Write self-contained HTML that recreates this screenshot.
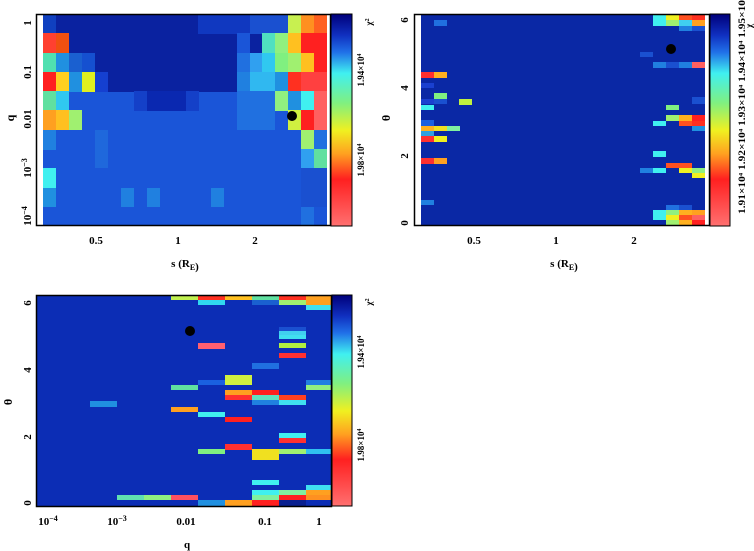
<!DOCTYPE html>
<html><head><meta charset="utf-8"><style>
html,body{margin:0;padding:0;background:#fff;width:754px;height:551px;overflow:hidden}
svg{display:block}
text{font-family:"Liberation Serif",serif;font-weight:bold;fill:#000}
</style></head><body>
<svg width="754" height="551" viewBox="0 0 754 551" xmlns="http://www.w3.org/2000/svg">
<defs>
<linearGradient id="cb" x1="0" y1="0" x2="0" y2="1">
<stop offset="0" stop-color="#00007a"/>
<stop offset="0.1" stop-color="#1030c0"/>
<stop offset="0.18" stop-color="#2070e8"/>
<stop offset="0.28" stop-color="#40f0f0"/>
<stop offset="0.42" stop-color="#80f080"/>
<stop offset="0.55" stop-color="#f0f020"/>
<stop offset="0.66" stop-color="#ffa020"/>
<stop offset="0.78" stop-color="#ff2020"/>
<stop offset="1" stop-color="#ff7070"/>
</linearGradient>
</defs>

<!-- ===== Panel 1 ===== -->
<rect x="43" y="14" width="284" height="212" fill="#1a55d8"/>
<rect x="43" y="14" width="284" height="78" fill="#0a22a0"/>
<rect x="43" y="14" width="13" height="20" fill="#1040c0"/>
<rect x="198" y="14" width="52" height="20" fill="#1038c0"/>
<rect x="250" y="14" width="39" height="20" fill="#1a50d0"/>
<rect x="288" y="14" width="13" height="20" fill="#c8f050"/>
<rect x="301" y="14" width="13" height="20" fill="#ff9020"/>
<rect x="314" y="14" width="13" height="20" fill="#ff6020"/>
<rect x="43" y="33" width="13" height="20" fill="#ff4030"/>
<rect x="56" y="33" width="13" height="20" fill="#f05010"/>
<rect x="237" y="33" width="13" height="20" fill="#1a55d8"/>
<rect x="262" y="33" width="13" height="20" fill="#50e0c0"/>
<rect x="275" y="33" width="13" height="20" fill="#90f080"/>
<rect x="288" y="33" width="13" height="20" fill="#ffc020"/>
<rect x="301" y="33" width="26" height="20" fill="#ff2020"/>
<rect x="43" y="53" width="13" height="20" fill="#50e0b0"/>
<rect x="56" y="53" width="13" height="20" fill="#2090e0"/>
<rect x="69" y="53" width="13" height="20" fill="#1a60d0"/>
<rect x="82" y="53" width="13" height="20" fill="#1550d0"/>
<rect x="237" y="53" width="13" height="20" fill="#2070e0"/>
<rect x="250" y="53" width="13" height="20" fill="#30a0f0"/>
<rect x="262" y="53" width="13" height="20" fill="#30c8f0"/>
<rect x="275" y="53" width="13" height="20" fill="#80f080"/>
<rect x="288" y="53" width="13" height="20" fill="#a0f070"/>
<rect x="301" y="53" width="13" height="20" fill="#ffc020"/>
<rect x="314" y="53" width="13" height="20" fill="#ff2020"/>
<rect x="43" y="72" width="13" height="20" fill="#ff2020"/>
<rect x="56" y="72" width="13" height="20" fill="#ffd020"/>
<rect x="69" y="72" width="13" height="20" fill="#2090e0"/>
<rect x="82" y="72" width="13" height="20" fill="#e0f020"/>
<rect x="95" y="72" width="13" height="20" fill="#1540d0"/>
<rect x="237" y="72" width="13" height="20" fill="#2080e0"/>
<rect x="250" y="72" width="26" height="20" fill="#30b8f0"/>
<rect x="275" y="72" width="13" height="20" fill="#2090e0"/>
<rect x="288" y="72" width="13" height="20" fill="#ff3020"/>
<rect x="301" y="72" width="26" height="20" fill="#ff4040"/>
<rect x="43" y="91" width="13" height="20" fill="#60e0a0"/>
<rect x="56" y="91" width="13" height="20" fill="#30c8f0"/>
<rect x="134" y="91" width="13" height="20" fill="#1440c8"/>
<rect x="147" y="91" width="39" height="20" fill="#0a28b0"/>
<rect x="186" y="91" width="13" height="20" fill="#1440c8"/>
<rect x="237" y="91" width="38" height="20" fill="#2070e0"/>
<rect x="275" y="91" width="13" height="20" fill="#90f080"/>
<rect x="288" y="91" width="13" height="20" fill="#2090e0"/>
<rect x="301" y="91" width="13" height="20" fill="#40f0f0"/>
<rect x="314" y="91" width="13" height="20" fill="#ff6060"/>
<rect x="43" y="110" width="13" height="20" fill="#ffa020"/>
<rect x="56" y="110" width="13" height="20" fill="#ffc020"/>
<rect x="69" y="110" width="13" height="20" fill="#a0f070"/>
<rect x="237" y="110" width="38" height="20" fill="#2070e0"/>
<rect x="288" y="110" width="13" height="20" fill="#d0f040"/>
<rect x="301" y="110" width="13" height="20" fill="#ff2020"/>
<rect x="314" y="110" width="13" height="20" fill="#ff6060"/>
<rect x="43" y="130" width="13" height="20" fill="#2080e0"/>
<rect x="301" y="130" width="13" height="20" fill="#a0f070"/>
<rect x="314" y="130" width="13" height="20" fill="#2070e0"/>
<rect x="95" y="130" width="13" height="38" fill="#1f68dc"/>
<rect x="301" y="149" width="13" height="20" fill="#30a0f0"/>
<rect x="314" y="149" width="13" height="20" fill="#60e0a0"/>
<rect x="43" y="168" width="13" height="20" fill="#40f0f0"/>
<rect x="43" y="188" width="13" height="19" fill="#2090e0"/>
<rect x="121" y="188" width="13" height="19" fill="#2080e0"/>
<rect x="147" y="188" width="13" height="19" fill="#2080e0"/>
<rect x="211" y="188" width="13" height="19" fill="#2080e0"/>
<rect x="301" y="168" width="26" height="39" fill="#1a50d0"/>
<rect x="301" y="207" width="13" height="19" fill="#2070e0"/>
<circle cx="292" cy="116" r="5" fill="#000"/>
<rect x="36.5" y="14.5" width="294" height="211" fill="none" stroke="#000" stroke-width="1.5"/>
<rect x="331" y="14" width="21" height="212" fill="url(#cb)" stroke="#000" stroke-width="1"/>
<text transform="translate(14,118) rotate(-90)" font-size="12" text-anchor="middle">q</text>
<g font-size="11" text-anchor="middle">
<text transform="translate(31,23) rotate(-90)">1</text>
<text transform="translate(31,72) rotate(-90)">0.1</text>
<text transform="translate(31,119) rotate(-90)">0.01</text>
<text transform="translate(31,168) rotate(-90)">10<tspan font-size="8" dy="-4">−3</tspan></text>
<text transform="translate(31,216) rotate(-90)">10<tspan font-size="8" dy="-4">−4</tspan></text>
<text x="96" y="244">0.5</text>
<text x="178" y="244">1</text>
<text x="255" y="244">2</text>
<text x="185" y="267">s (R<tspan font-size="8" dy="3">E</tspan>)</text>
</g>
<g font-size="9" text-anchor="middle">
<text transform="translate(364,70) rotate(-90)">1.94×10<tspan font-size="6" dy="-3">4</tspan></text>
<text transform="translate(364,160) rotate(-90)">1.98×10<tspan font-size="6" dy="-3">4</tspan></text>
<text transform="translate(372,22) rotate(-90)">χ<tspan font-size="6" dy="-3">2</tspan></text>
</g>

<!-- ===== Panel 2 ===== -->
<rect x="421" y="14" width="284" height="212" fill="#0a28a5"/>
<g>
<rect x="434" y="20" width="13" height="6" fill="#2070e0"/>
<rect x="653" y="15" width="13" height="5" fill="#40f0f0"/><rect x="666" y="15" width="13" height="5" fill="#f0f020"/><rect x="679" y="15" width="13" height="5" fill="#ff5020"/><rect x="692" y="15" width="13" height="5" fill="#ff3020"/>
<rect x="653" y="20" width="13" height="6" fill="#40f0f0"/><rect x="666" y="20" width="13" height="6" fill="#a0f070"/><rect x="679" y="20" width="13" height="6" fill="#40d0f0"/><rect x="692" y="20" width="13" height="6" fill="#ffa020"/>
<rect x="679" y="26" width="13" height="5" fill="#2080e0"/><rect x="692" y="26" width="13" height="5" fill="#1a50d0"/>
<rect x="640" y="52" width="13" height="5" fill="#1a50d0"/>
<rect x="653" y="62" width="13" height="6" fill="#2080e0"/><rect x="666" y="62" width="13" height="6" fill="#1a50d0"/><rect x="679" y="62" width="13" height="6" fill="#2080e0"/><rect x="692" y="62" width="13" height="6" fill="#ff6060"/>
<rect x="421" y="72" width="13" height="6" fill="#ff3030"/><rect x="434" y="72" width="13" height="6" fill="#ffb020"/>
<rect x="421" y="83" width="13" height="5" fill="#1a40d0"/>
<rect x="434" y="93" width="13" height="6" fill="#80f080"/>
<rect x="421" y="99" width="13" height="5" fill="#1a40d0"/><rect x="434" y="99" width="13" height="5" fill="#1a50d0"/><rect x="459" y="99" width="13" height="6" fill="#c0f040"/>
<rect x="692" y="97" width="13" height="7" fill="#1a50d0"/>
<rect x="421" y="105" width="13" height="5" fill="#40f0f0"/>
<rect x="666" y="105" width="13" height="5" fill="#80f080"/>
<rect x="421" y="120" width="13" height="6" fill="#1a60e0"/>
<rect x="666" y="115" width="13" height="6" fill="#a0f070"/><rect x="679" y="115" width="13" height="6" fill="#ffb020"/><rect x="692" y="115" width="13" height="6" fill="#ff2020"/>
<rect x="653" y="121" width="13" height="5" fill="#40f0f0"/><rect x="679" y="121" width="13" height="5" fill="#ff5020"/><rect x="692" y="121" width="13" height="5" fill="#ff3020"/>
<rect x="421" y="126" width="13" height="5" fill="#ffb020"/><rect x="434" y="126" width="13" height="5" fill="#f0e020"/><rect x="447" y="126" width="13" height="5" fill="#80f0a0"/>
<rect x="692" y="126" width="13" height="5" fill="#2090e0"/>
<rect x="421" y="131" width="13" height="5" fill="#30a0e0"/>
<rect x="421" y="136" width="13" height="6" fill="#ff3030"/><rect x="434" y="136" width="13" height="6" fill="#f0f020"/>
<rect x="653" y="151" width="13" height="6" fill="#40f0f0"/>
<rect x="421" y="158" width="13" height="6" fill="#ff3030"/><rect x="434" y="158" width="13" height="6" fill="#ffa020"/>
<rect x="666" y="163" width="13" height="5" fill="#ff5020"/><rect x="679" y="163" width="13" height="5" fill="#ff5020"/>
<rect x="640" y="168" width="13" height="5" fill="#2080e0"/><rect x="653" y="168" width="13" height="5" fill="#40f0f0"/><rect x="679" y="168" width="13" height="5" fill="#f0f020"/><rect x="692" y="168" width="13" height="5" fill="#90f080"/>
<rect x="692" y="173" width="13" height="5" fill="#f0f020"/>
<rect x="421" y="200" width="13" height="5" fill="#2080e0"/>
<rect x="666" y="205" width="13" height="5" fill="#2070e0"/><rect x="679" y="205" width="13" height="5" fill="#1a50d0"/>
<rect x="653" y="210" width="13" height="5" fill="#40f0f0"/><rect x="666" y="210" width="13" height="5" fill="#90f080"/><rect x="679" y="210" width="13" height="5" fill="#ffb020"/><rect x="692" y="210" width="13" height="5" fill="#ffa020"/>
<rect x="653" y="215" width="13" height="5" fill="#40f0f0"/><rect x="666" y="215" width="13" height="5" fill="#f0f020"/><rect x="679" y="215" width="13" height="5" fill="#ff5020"/><rect x="692" y="215" width="13" height="5" fill="#ff6060"/>
<rect x="666" y="220" width="13" height="6" fill="#a0f070"/><rect x="679" y="220" width="13" height="6" fill="#ffb020"/><rect x="692" y="220" width="13" height="6" fill="#ff2020"/>
</g>
<circle cx="671" cy="49" r="5" fill="#000"/>
<rect x="414.5" y="14.5" width="295" height="211" fill="none" stroke="#000" stroke-width="1.5"/>
<rect x="710" y="14" width="20" height="212" fill="url(#cb)" stroke="#000" stroke-width="1"/>
<text transform="translate(390,118) rotate(-90)" font-size="12" text-anchor="middle">θ</text>
<g font-size="11" text-anchor="middle">
<text transform="translate(408,20) rotate(-90)">6</text>
<text transform="translate(408,88) rotate(-90)">4</text>
<text transform="translate(408,156) rotate(-90)">2</text>
<text transform="translate(408,223) rotate(-90)">0</text>
<text x="474" y="244">0.5</text>
<text x="556" y="244">1</text>
<text x="634" y="244">2</text>
<text x="564" y="267">s (R<tspan font-size="8" dy="3">E</tspan>)</text>
</g>
<text transform="translate(745,214) rotate(-90)" font-size="9" textLength="214" lengthAdjust="spacingAndGlyphs">1.91×10⁴ 1.92×10⁴ 1.93×10⁴ 1.94×10⁴ 1.95×10</text>
<text transform="translate(752,28) rotate(-90)" font-size="9">χ</text>

<!-- ===== Panel 3 ===== -->
<rect x="37" y="295" width="294" height="211" fill="#0c2db5"/>
<g>
<rect x="171" y="295" width="27" height="5" fill="#c0f050"/><rect x="198" y="295" width="27" height="5" fill="#ff3020"/><rect x="225" y="295" width="27" height="5" fill="#ffc020"/><rect x="252" y="295" width="27" height="5" fill="#60e0a0"/><rect x="279" y="295" width="27" height="5" fill="#ff3020"/>
<rect x="198" y="300" width="27" height="5" fill="#30d8f0"/><rect x="252" y="300" width="27" height="5" fill="#1a60d0"/><rect x="279" y="300" width="27" height="5" fill="#a0f070"/>
<rect x="306" y="295" width="25" height="10" fill="#ffa020"/>
<rect x="306" y="305" width="25" height="5" fill="#40e0f0"/>
<rect x="279" y="327" width="27" height="4" fill="#1a50d0"/>
<rect x="279" y="331" width="27" height="4" fill="#40d0f0"/>
<rect x="279" y="335" width="27" height="4" fill="#40e0f0"/>
<rect x="198" y="343" width="27" height="6" fill="#ff6070"/><rect x="279" y="343" width="27" height="5" fill="#b0f040"/>
<rect x="279" y="353" width="27" height="5" fill="#ff3030"/>
<rect x="252" y="363" width="27" height="6" fill="#2070e0"/>
<rect x="225" y="375" width="27" height="10" fill="#d0f040"/><rect x="198" y="380" width="27" height="5" fill="#1a60e0"/><rect x="306" y="380" width="25" height="5" fill="#2080e0"/>
<rect x="171" y="385" width="27" height="5" fill="#60e0a0"/><rect x="306" y="385" width="25" height="5" fill="#90f080"/>
<rect x="225" y="390" width="27" height="5" fill="#ffa020"/><rect x="252" y="390" width="27" height="5" fill="#ff2020"/>
<rect x="225" y="395" width="27" height="5" fill="#ff3030"/><rect x="252" y="395" width="27" height="5" fill="#60e0c0"/><rect x="279" y="395" width="27" height="5" fill="#ff4020"/>
<rect x="90" y="401" width="27" height="6" fill="#2090e0"/>
<rect x="171" y="407" width="27" height="5" fill="#ffa020"/><rect x="252" y="400" width="27" height="5" fill="#2080e0"/><rect x="279" y="400" width="27" height="5" fill="#40e0f0"/>
<rect x="198" y="412" width="27" height="5" fill="#40f0f0"/>
<rect x="225" y="417" width="27" height="5" fill="#ff2020"/>
<rect x="279" y="433" width="27" height="5" fill="#40f0f0"/>
<rect x="279" y="438" width="27" height="5" fill="#ff3030"/>
<rect x="225" y="444" width="27" height="6" fill="#ff3030"/>
<rect x="198" y="449" width="27" height="5" fill="#80f080"/><rect x="252" y="449" width="27" height="11" fill="#f0e020"/><rect x="279" y="449" width="27" height="5" fill="#a0f070"/><rect x="306" y="449" width="25" height="5" fill="#30c0f0"/>
<rect x="252" y="480" width="27" height="5" fill="#40f0f0"/>
<rect x="306" y="485" width="25" height="5" fill="#40e0f0"/>
<rect x="252" y="490" width="27" height="5" fill="#40f0f0"/><rect x="279" y="490" width="27" height="5" fill="#80f0a0"/><rect x="306" y="490" width="25" height="5" fill="#ffa020"/>
<rect x="117" y="495" width="27" height="5" fill="#60e0b0"/><rect x="144" y="495" width="27" height="5" fill="#90f080"/><rect x="171" y="495" width="27" height="5" fill="#ff5060"/><rect x="252" y="495" width="27" height="5" fill="#80f0a0"/><rect x="279" y="495" width="27" height="5" fill="#ff2020"/><rect x="306" y="495" width="25" height="5" fill="#ff9020"/>
<rect x="198" y="500" width="27" height="6" fill="#2090e0"/><rect x="225" y="500" width="27" height="6" fill="#ffa020"/><rect x="252" y="500" width="27" height="6" fill="#ff2020"/><rect x="279" y="500" width="27" height="6" fill="#0a2090"/>
</g>
<circle cx="190" cy="331" r="5" fill="#000"/>
<rect x="36.5" y="295.5" width="295" height="211" fill="none" stroke="#000" stroke-width="1.5"/>
<rect x="332" y="295" width="20" height="211" fill="url(#cb)" stroke="#000" stroke-width="1"/>
<text transform="translate(12,402) rotate(-90)" font-size="12" text-anchor="middle">θ</text>
<g font-size="11" text-anchor="middle">
<text transform="translate(31,303) rotate(-90)">6</text>
<text transform="translate(31,370) rotate(-90)">4</text>
<text transform="translate(31,437) rotate(-90)">2</text>
<text transform="translate(31,503) rotate(-90)">0</text>
<text x="48" y="525">10<tspan font-size="8" dy="-4">−4</tspan></text>
<text x="117" y="525">10<tspan font-size="8" dy="-4">−3</tspan></text>
<text x="186" y="525">0.01</text>
<text x="265" y="525">0.1</text>
<text x="319" y="525">1</text>
<text x="187" y="548">q</text>
</g>
<g font-size="9" text-anchor="middle">
<text transform="translate(364,352) rotate(-90)">1.94×10<tspan font-size="6" dy="-3">4</tspan></text>
<text transform="translate(364,445) rotate(-90)">1.98×10<tspan font-size="6" dy="-3">4</tspan></text>
<text transform="translate(372,302) rotate(-90)">χ<tspan font-size="6" dy="-3">2</tspan></text>
</g>
</svg>
</body></html>
